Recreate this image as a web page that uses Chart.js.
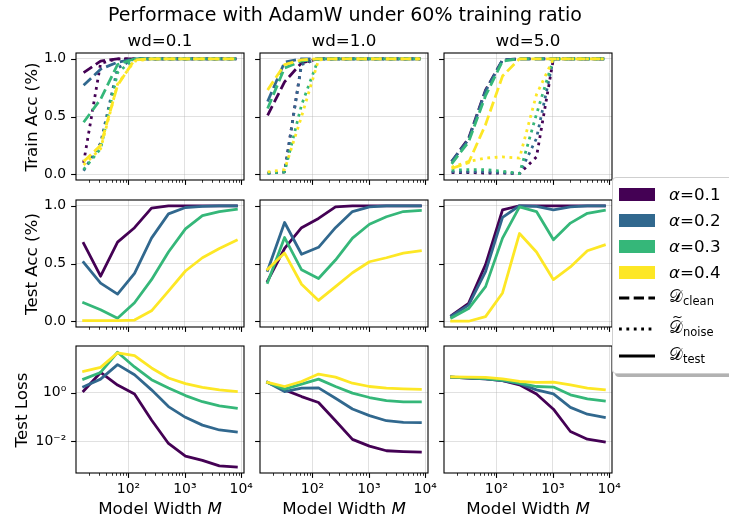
<!DOCTYPE html>
<html>
<head>
<meta charset="utf-8">
<script src="https://cdn.jsdelivr.net/npm/chart.js@4.4.1/dist/chart.umd.min.js"></script>
<style>
  html, body { margin: 0; padding: 0; background: #fff; }
  #fig { position: relative; width: 729px; height: 523px; overflow: hidden; background: #fff;
         font-family: "DejaVu Sans", sans-serif; color: #000; }
  #fig canvas { position: absolute; left: 0; top: 0; }
  .txt { position: absolute; white-space: nowrap; transform: translate(-50%, -50%); line-height: 1; }
  .rot { transform: translate(-50%, -50%) rotate(-90deg); }
  #legend { position: absolute; left: 612px; top: 177px; width: 140px; height: 195px;
            background: #fff; border: 1px solid #cfcfcf; border-radius: 4px;
            box-shadow: 3px 3px 0 rgba(0,0,0,0.3); z-index: 5; }
  .lg-row { position: absolute; left: 0; height: 0; }
  .lg-patch { position: absolute; left: 6px; width: 36px; height: 13px; top: -6.5px; }
  .lg-line { position: absolute; left: 6px; top: -4px; }
  .lg-text { position: absolute; left: 56px; top: 0; transform: translateY(-50%); font-size: 16.7px; white-space: nowrap; line-height: 1; }
  .cal { font-family: "DejaVu Sans", "DejaVu Serif", serif; }
  .lg-text sub { font-size: 11.5px; vertical-align: -3px; }
  .tl { position: relative; display: inline-block; }
  .tl .tilde { position: absolute; left: 3px; top: -9px; font-size: 13px; }
</style>
</head>
<body>
<div id="fig"></div>
<script>
// Model widths swept on the x axis
const widths = [16, 32, 64, 128, 256, 512, 1024, 2048, 4096, 8192];
// Label-noise levels (one colour each) and weight-decay settings (one column each)
const alphas = ['0.1', '0.2', '0.3', '0.4'];
const wdTitles = ['wd=0.1', 'wd=1.0', 'wd=5.0'];
// Axis ticks
const xMajorTicks = [100, 1000, 10000];
const accTicks = [0, 0.5, 1.0];
const lossTicks = [0.01, 1];

// Training accuracy on the clean subset, rows = alpha 0.1 .. 0.4
const trainCleanWd01 = [
  [0.88, 0.98, 1, 1, 1, 1, 1, 1, 1, 1],
  [0.77, 0.91, 0.97, 1, 1, 1, 1, 1, 1, 1],
  [0.45, 0.65, 0.95, 1, 1, 1, 1, 1, 1, 1],
  [0.11, 0.25, 0.77, 0.99, 1, 1, 1, 1, 1, 1]
];
const trainCleanWd1 = [
  [0.51, 0.80, 0.965, 1, 1, 1, 1, 1, 1, 1],
  [0.63, 0.97, 1, 1, 1, 1, 1, 1, 1, 1],
  [0.57, 0.92, 0.98, 1, 1, 1, 1, 1, 1, 1],
  [0.73, 0.95, 0.99, 1, 1, 1, 1, 1, 1, 1]
];
const trainCleanWd5 = [
  [0.11, 0.31, 0.73, 0.99, 1, 1, 1, 1, 1, 1],
  [0.11, 0.30, 0.72, 0.99, 1, 1, 1, 1, 1, 1],
  [0.09, 0.28, 0.68, 0.98, 1, 1, 1, 1, 1, 1],
  [0.05, 0.10, 0.43, 0.85, 1, 1, 1, 1, 1, 1]
];
// Training accuracy on the noisy subset
const trainNoiseWd01 = [
  [0.10, 0.96, 1, 1, 1, 1, 1, 1, 1, 1],
  [0.03, 0.27, 0.92, 1, 1, 1, 1, 1, 1, 1],
  [0.04, 0.22, 0.88, 1, 1, 1, 1, 1, 1, 1],
  [0.08, 0.22, 0.78, 0.98, 1, 1, 1, 1, 1, 1]
];
const trainNoiseWd1 = [
  [0.01, 0.02, 0.96, 1, 1, 1, 1, 1, 1, 1],
  [0.01, 0.02, 0.95, 1, 1, 1, 1, 1, 1, 1],
  [0.01, 0.02, 0.60, 1, 1, 1, 1, 1, 1, 1],
  [0.02, 0.04, 0.50, 0.99, 1, 1, 1, 1, 1, 1]
];
const trainNoiseWd5 = [
  [0.015, 0.015, 0.01, 0.01, 0.005, 0.15, 1, 1, 1, 1],
  [0.02, 0.02, 0.02, 0.015, 0.005, 0.31, 1, 1, 1, 1],
  [0.035, 0.04, 0.04, 0.026, 0.006, 0.52, 1, 1, 1, 1],
  [0.06, 0.11, 0.14, 0.15, 0.14, 0.69, 1, 1, 1, 1]
];
// Test accuracy
const testAccWd01 = [
  [0.675, 0.39, 0.685, 0.81, 0.98, 1, 1, 1, 1, 1],
  [0.51, 0.33, 0.235, 0.415, 0.72, 0.93, 0.985, 0.995, 1, 1],
  [0.16, 0.10, 0.025, 0.16, 0.36, 0.60, 0.80, 0.915, 0.95, 0.97],
  [0.005, 0.005, 0.005, 0.01, 0.09, 0.26, 0.435, 0.55, 0.63, 0.70]
];
const testAccWd1 = [
  [0.35, 0.63, 0.81, 0.89, 0.99, 1, 1, 1, 1, 1],
  [0.44, 0.855, 0.58, 0.64, 0.81, 0.95, 0.99, 1, 1, 1],
  [0.335, 0.725, 0.445, 0.37, 0.53, 0.72, 0.84, 0.905, 0.95, 0.96],
  [0.45, 0.59, 0.32, 0.18, 0.30, 0.42, 0.515, 0.55, 0.59, 0.61]
];
const testAccWd5 = [
  [0.05, 0.155, 0.49, 0.965, 1, 1, 1, 1, 1, 1],
  [0.045, 0.14, 0.43, 0.90, 1, 0.995, 0.965, 0.99, 1, 1],
  [0.03, 0.11, 0.30, 0.72, 0.99, 0.95, 0.705, 0.85, 0.935, 0.96],
  [0.0, 0.0, 0.04, 0.245, 0.76, 0.60, 0.36, 0.47, 0.61, 0.66]
];
// Test loss
const testLossWd01 = [
  [1.2, 7.0, 2.1, 0.9, 0.075, 0.008, 0.0024, 0.0016, 0.00094, 0.00085],
  [1.8, 3.7, 14.7, 5.6, 1.33, 0.27, 0.097, 0.046, 0.029, 0.024],
  [3.7, 7.0, 48, 11.8, 3.5, 1.6, 0.77, 0.43, 0.29, 0.23],
  [7.7, 11.3, 45, 35, 10.7, 4.1, 2.4, 1.7, 1.33, 1.13]
];
const testLossWd1 = [
  [2.7, 1.33, 0.7, 0.40, 0.07, 0.0118, 0.0062, 0.0040, 0.0037, 0.0035],
  [2.7, 1.13, 1.56, 1.6, 0.6, 0.215, 0.114, 0.07, 0.060, 0.058],
  [2.7, 1.42, 2.3, 3.7, 1.83, 0.97, 0.64, 0.48, 0.42, 0.42],
  [2.7, 1.83, 2.95, 6.0, 4.5, 2.5, 1.83, 1.57, 1.47, 1.4]
];
const testLossWd5 = [
  [4.5, 4.1, 3.8, 3.2, 2.15, 0.9, 0.21, 0.025, 0.012, 0.0093],
  [4.5, 4.1, 3.8, 3.2, 2.4, 1.33, 0.9, 0.25, 0.13, 0.097],
  [4.5, 4.3, 3.9, 3.4, 2.5, 1.83, 1.73, 0.83, 0.56, 0.46],
  [4.6, 4.5, 4.4, 3.8, 2.95, 2.7, 2.75, 2.15, 1.57, 1.33]
];

// ---- styling and layout ----
const COLORS = ['#440154', '#31688e', '#35b779', '#fde725'];
const LW = 2.78;
const DASH_CLEAN = [10.3, 4.4];
const DASH_NOISE = [2.8, 4.6];
const W = 729, H = 523;
const COL_LEFT = [76, 260, 444], COL_W = 168;
const ROW_TOP = [53, 200, 346], ROW_H = 127;
const Y_W = 60, X_H = 34;
const X_MIN = Math.pow(10, 1.069), X_MAX = Math.pow(10, 4.049);
const LOSS_MIN = Math.pow(10, -3.32), LOSS_MAX = Math.pow(10, 1.94);
const TICK_FONT = { family: 'DejaVu Sans', size: 13.9 };
const GRID = 'rgba(176,176,176,0.38)';

const SUP = { '0': '\u2070', '1': '\u00b9', '2': '\u00b2', '3': '\u00b3', '4': '\u2074',
              '5': '\u2075', '6': '\u2076', '7': '\u2077', '8': '\u2078', '9': '\u2079', '-': '\u207b' };
const isDecade = v => Math.abs(Math.log10(v) - Math.round(Math.log10(v))) < 1e-9;
const decadeLabel = v => '10' + String(Math.round(Math.log10(v))).split('').map(c => SUP[c]).join('');

// minor + major tick values for the log width axis
const xTickValues = [];
for (let e = 1; e <= 4; e++) {
  for (let m = 1; m <= 9; m++) {
    const v = m * Math.pow(10, e);
    if (v >= X_MIN && v <= X_MAX) xTickValues.push(v);
  }
}

// box frame and outward tick marks
const framePlugin = {
  id: 'frame',
  afterDraw(chart) {
    const { ctx, chartArea: a, scales: { x, y } } = chart;
    ctx.save();
    ctx.strokeStyle = '#000';
    x.ticks.forEach(t => {
      const major = isDecade(t.value);
      const px = Math.round(x.getPixelForValue(t.value)) + 0.5;
      ctx.lineWidth = major ? 1.1 : 0.8;
      ctx.beginPath();
      ctx.moveTo(px, a.bottom);
      ctx.lineTo(px, a.bottom + (major ? 4.9 : 2.8));
      ctx.stroke();
    });
    y.ticks.forEach(t => {
      const py = Math.round(y.getPixelForValue(t.value)) + 0.5;
      ctx.lineWidth = 1.1;
      ctx.beginPath();
      ctx.moveTo(a.left, py);
      ctx.lineTo(a.left - 4.9, py);
      ctx.stroke();
    });
    ctx.lineWidth = 1.1;
    ctx.strokeRect(a.left, a.top, a.right - a.left, a.bottom - a.top);
    ctx.restore();
  }
};

function makeDatasets(groups) {
  const out = [];
  let k = 0;
  for (let i = 0; i < alphas.length; i++) {
    groups.forEach(g => {
      out.push({
        label: 'alpha ' + alphas[i],
        data: widths.map((w, j) => ({ x: w, y: g.values[i][j] })),
        borderColor: COLORS[i],
        borderWidth: LW,
        borderDash: g.dash,
        borderCapStyle: g.dash.length ? 'butt' : 'square',
        borderJoinStyle: 'round',
        fill: false,
        pointRadius: 0,
        tension: 0,
        order: -(k++)
      });
    });
  }
  return out;
}

function panel(row, col, datasets, isLoss) {
  const cv = document.createElement('canvas');
  cv.width = W; cv.height = H;
  document.getElementById('fig').appendChild(cv);
  const yTicks = isLoss ? lossTicks : accTicks;
  new Chart(cv, {
    type: 'line',
    data: { datasets },
    options: {
      responsive: false,
      animation: false,
      events: [],
      layout: { padding: {
        left: COL_LEFT[col] - Y_W,
        right: W - COL_LEFT[col] - COL_W,
        top: ROW_TOP[row],
        bottom: H - ROW_TOP[row] - ROW_H - X_H
      } },
      plugins: { legend: { display: false }, tooltip: { enabled: false } },
      scales: {
        x: {
          type: 'logarithmic',
          min: X_MIN, max: X_MAX,
          afterFit: s => { s.height = X_H; },
          afterBuildTicks: s => { s.ticks = xTickValues.map(v => ({ value: v, major: isDecade(v) })); },
          border: { display: false },
          grid: {
            color: c => (c.tick && isDecade(c.tick.value)) ? GRID : 'rgba(0,0,0,0)',
            lineWidth: 1,
            tickLength: 4.9,
            tickColor: 'rgba(0,0,0,0)'
          },
          ticks: {
            display: row === 2,
            autoSkip: false, maxRotation: 0, minRotation: 0,
            padding: 3,
            color: '#000',
            font: TICK_FONT,
            callback: v => isDecade(v) ? decadeLabel(v) : ''
          }
        },
        y: {
          type: isLoss ? 'logarithmic' : 'linear',
          min: isLoss ? LOSS_MIN : -0.05,
          max: isLoss ? LOSS_MAX : 1.05,
          afterFit: s => { s.width = Y_W; },
          afterBuildTicks: s => { s.ticks = yTicks.map(v => ({ value: v, major: true })); },
          border: { display: false },
          grid: { color: GRID, lineWidth: 1, tickLength: 4.9, tickColor: 'rgba(0,0,0,0)' },
          ticks: {
            display: col === 0,
            autoSkip: false,
            padding: 4.9,
            color: '#000',
            font: TICK_FONT,
            callback: v => isLoss ? decadeLabel(v) : v.toFixed(1)
          }
        }
      }
    },
    plugins: [framePlugin]
  });
}

const cleanSets = [trainCleanWd01, trainCleanWd1, trainCleanWd5];
const noiseSets = [trainNoiseWd01, trainNoiseWd1, trainNoiseWd5];
const accSets = [testAccWd01, testAccWd1, testAccWd5];
const lossSets = [testLossWd01, testLossWd1, testLossWd5];

for (let c = 0; c < 3; c++) {
  panel(0, c, makeDatasets([{ values: cleanSets[c], dash: DASH_CLEAN }, { values: noiseSets[c], dash: DASH_NOISE }]), false);
  panel(1, c, makeDatasets([{ values: accSets[c], dash: [] }]), false);
  panel(2, c, makeDatasets([{ values: lossSets[c], dash: [] }]), true);
}

// ---- text: titles and axis labels ----
const fig = document.getElementById('fig');
function addText(html, x, y, size, rotated) {
  const d = document.createElement('div');
  d.className = 'txt' + (rotated ? ' rot' : '');
  d.style.left = x + 'px';
  d.style.top = y + 'px';
  d.style.fontSize = size + 'px';
  d.innerHTML = html;
  fig.appendChild(d);
}
addText('Performace with AdamW under 60% training ratio', 345, 14, 19, false);
wdTitles.forEach((t, c) => addText(t, COL_LEFT[c] + COL_W / 2, 40, 16.7, false));
addText('Train Acc (%)', 31, ROW_TOP[0] + ROW_H / 2, 16.7, true);
addText('Test Acc (%)', 31, ROW_TOP[1] + ROW_H / 2, 16.7, true);
addText('Test Loss', 21, ROW_TOP[2] + ROW_H / 2, 16.7, true);
for (let c = 0; c < 3; c++) addText('Model Width <i>M</i>', COL_LEFT[c] + COL_W / 2, 508, 16.7, false);

// ---- legend ----
const lg = document.createElement('div');
lg.id = 'legend';
fig.appendChild(lg);
const rowY = [16, 42, 68, 94, 120, 151, 178];
alphas.forEach((a, i) => {
  const r = document.createElement('div');
  r.className = 'lg-row';
  r.style.top = rowY[i] + 'px';
  r.innerHTML = '<div class="lg-patch" style="background:' + COLORS[i] + '"></div>' +
                '<div class="lg-text"><i>\u03b1</i>=' + a + '</div>';
  lg.appendChild(r);
});
const styleRows = [
  { dash: DASH_CLEAN.join(' '), text: '<span class="cal">\ud835\udc9f</span><sub>clean</sub>' },
  { dash: DASH_NOISE.join(' '), text: '<span class="tl"><span class="cal">\ud835\udc9f</span><span class="tilde">~</span></span><sub>noise</sub>' },
  { dash: 'none', text: '<span class="cal">\ud835\udc9f</span><sub>test</sub>' }
];
styleRows.forEach((s, i) => {
  const r = document.createElement('div');
  r.className = 'lg-row';
  r.style.top = rowY[4 + i] + 'px';
  r.innerHTML = '<svg class="lg-line" width="38" height="8"><line x1="0" y1="4" x2="36" y2="4" stroke="#000" stroke-width="' + LW + '" stroke-dasharray="' + s.dash + '"/></svg>' +
                '<div class="lg-text">' + s.text + '</div>';
  lg.appendChild(r);
});
</script>
</body>
</html>
